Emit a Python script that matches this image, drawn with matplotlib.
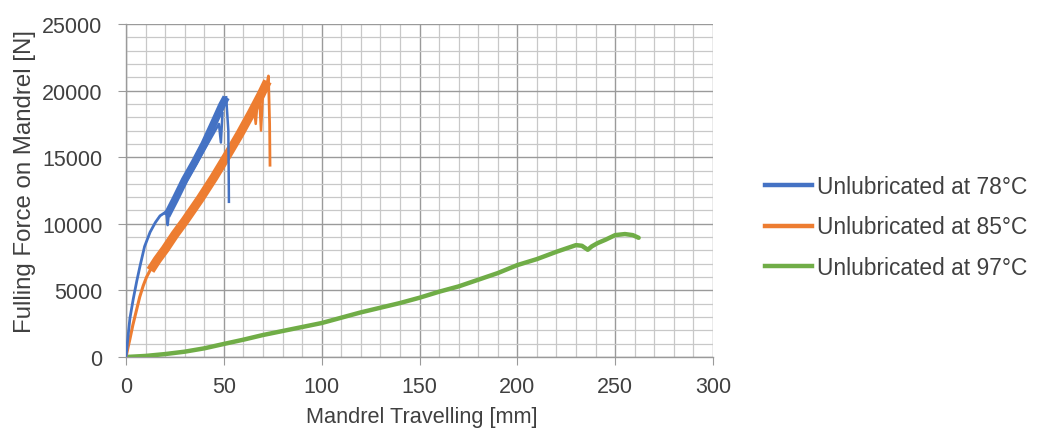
import matplotlib
matplotlib.use("Agg")
import matplotlib.pyplot as plt
from matplotlib.ticker import MultipleLocator
from matplotlib.lines import Line2D

# ---- data ----
labels = ["Unlubricated at 78°C", "Unlubricated at 85°C", "Unlubricated at 97°C"]

# 78 °C: initial rise, noisy band, final drop
blue_rise_x = [0, 1, 2, 3.7, 5.5, 7.2, 9.5, 12.3, 15, 17.4, 20.5]
blue_rise_y = [0, 1500, 2900, 4350, 5700, 6850, 8300, 9370, 10100, 10600, 10900]
blue_band_x = [20.8, 25, 30, 35, 40, 45, 49, 51.2]
blue_band_y = [10600, 11800, 13300, 14600, 16000, 17600, 18900, 19500]
blue_spike_x = [20.8, 21.3, 22, 47.5, 48.5, 49.3]
blue_spike_y = [10600, 9900, 10900, 17500, 16100, 18300]
blue_drop_x = [51.2, 52.3, 52.6]
blue_drop_y = [19500, 17000, 11650]

# 85 °C
orange_rise_x = [0, 1, 2, 3.5, 5.5, 7, 8.8, 10.5, 12.3]
orange_rise_y = [0, 700, 1350, 2400, 3600, 4500, 5350, 6000, 6500]
orange_band_x = [12.5, 16, 20, 25, 30, 37.8, 45, 52, 58, 64, 69, 72.3]
orange_band_y = [6500, 7300, 8100, 9200, 10200, 11860, 13500, 15200, 16700, 18300, 19700, 20700]
orange_spike_x = [65.5, 66.3, 67.2, 68.2, 69, 70]
orange_spike_y = [18600, 17500, 19100, 19300, 17000, 19800]
orange_drop_x = [72.3, 72.8, 73.4, 73.6]
orange_drop_y = [20700, 21100, 17500, 14400]

# 97 °C
green_x = [0, 10, 20, 30, 40, 50, 60, 70, 80, 90, 100, 110, 120, 130, 140, 150,
           160, 170, 180, 190, 200, 210, 220, 230, 233, 236, 238, 241, 245, 250,
           255, 259, 262]
green_y = [0, 80, 220, 400, 650, 980, 1300, 1650, 1950, 2250, 2550, 2950, 3350,
           3700, 4050, 4450, 4900, 5300, 5800, 6300, 6900, 7350, 7900, 8400, 8350,
           8050, 8300, 8550, 8800, 9150, 9230, 9150, 8950]

x_ticks = [0, 50, 100, 150, 200, 250, 300]
y_ticks = [0, 5000, 10000, 15000, 20000, 25000]

# ---- style ----
plt.rcParams['font.family'] = ['Liberation Sans', 'DejaVu Sans']
c_blue, c_orange, c_green = "#4472C4", "#ED7D31", "#70AD47"
txt = "#404040"
W, H = 1039, 431

fig = plt.figure(figsize=(W / 100, H / 100), dpi=100)
ax = fig.add_axes([126 / W, 1 - 358 / H, 587 / W, 333 / H])

# grid
ax.xaxis.set_major_locator(MultipleLocator(50))
ax.xaxis.set_minor_locator(MultipleLocator(10))
ax.yaxis.set_major_locator(MultipleLocator(5000))
ax.yaxis.set_minor_locator(MultipleLocator(1000))
ax.grid(which='major', color='#9a9a9a', lw=1.0, zorder=0)
ax.grid(which='minor', color='#c8c8c8', lw=0.9, zorder=0)
ax.set_axisbelow(True)

# series
ax.plot(green_x, green_y, color=c_green, lw=3.2, solid_capstyle='round', zorder=3)
ax.plot(orange_rise_x, orange_rise_y, color=c_orange, lw=2.2, zorder=4)
ax.plot(orange_band_x, orange_band_y, color=c_orange, lw=6.5, solid_capstyle='butt', zorder=4)
ax.plot(orange_spike_x, orange_spike_y, color=c_orange, lw=1.8, zorder=4)
ax.plot(orange_drop_x, orange_drop_y, color=c_orange, lw=2.0, zorder=4)
ax.plot(blue_rise_x, blue_rise_y, color=c_blue, lw=2.0, zorder=5)
ax.plot(blue_band_x, blue_band_y, color=c_blue, lw=5.5, solid_capstyle='butt', zorder=5)
ax.plot(blue_spike_x, blue_spike_y, color=c_blue, lw=1.8, zorder=5)
ax.plot(blue_drop_x, blue_drop_y, color=c_blue, lw=1.8, zorder=5)

ax.set_xlim(0, 300)
ax.set_ylim(0, 25000)
ax.set_xticks(x_ticks)
ax.set_yticks(y_ticks)
ax.set_xticklabels([str(v) for v in x_ticks])
ax.set_yticklabels([str(v) for v in y_ticks])
ax.tick_params(axis='both', which='major', labelsize=15.5, colors=txt, length=6,
               color='#9a9a9a')
ax.tick_params(axis='x', which='major', pad=8)
ax.tick_params(axis='y', which='major', pad=11)
ax.tick_params(axis='both', which='minor', length=0)

for side in ['top', 'right']:
    ax.spines[side].set_visible(False)
for side in ['left', 'bottom']:
    ax.spines[side].set_color('#9a9a9a')
    ax.spines[side].set_linewidth(1.0)

fig.text(421.5 / W, 1 - 418 / H, "Mandrel Travelling [mm]", fontsize=15.7,
         color=txt, ha='center', va='center')
fig.text(25 / W, 1 - 181.5 / H, "Fulling Force on Mandrel [N]", fontsize=17.3,
         color=txt, ha='center', va='center', rotation=90)

handles = [Line2D([], [], color=c, lw=3.2) for c in (c_blue, c_orange, c_green)]
fig.legend(handles, labels, loc='center left', bbox_to_anchor=(0.717, 0.471),
           frameon=False, fontsize=16.4, handlelength=2.06, handletextpad=0.2,
           labelspacing=0.75, labelcolor=txt)

fig.savefig("out.png", dpi=100)
